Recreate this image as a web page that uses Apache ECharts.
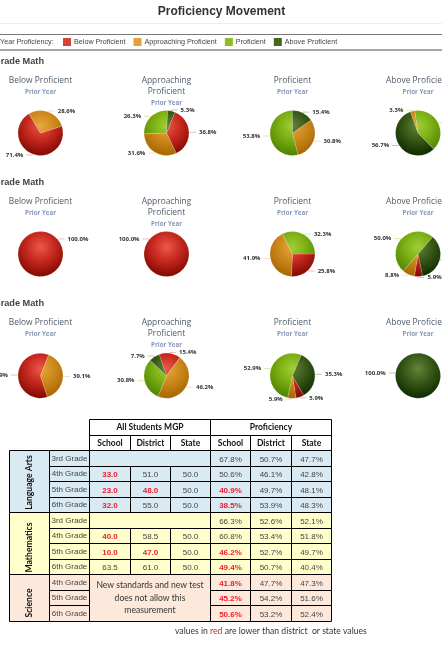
<!DOCTYPE html>
<html><head><meta charset="utf-8">
<style>html,body{margin:0;padding:0;background:#fff}#c{width:442px;height:655px;filter:blur(0.3px)}</style>
<script src="https://cdn.jsdelivr.net/npm/echarts@6/dist/echarts.min.js"></script>
</head><body><div id="c"></div>
<script>
// ---------- data ----------
const categories = ['Below Proficient','Approaching Proficient','Proficient','Above Proficient'];
const pieTitles = ['Below Proficient','Approaching\nProficient','Proficient','Above Proficient'];
const row1Values = [[71.4,28.6,0,0],[36.8,31.6,26.3,5.3],[0,30.8,53.8,15.4],[0,3.3,40.0,56.7]];
const row2Values = [[100,0,0,0],[100,0,0,0],[25.8,41.9,32.3,0],[5.9,8.8,50.0,35.3]];
const row3Values = [[60.9,39.1,0,0],[15.4,46.2,30.8,7.7],[5.9,5.9,52.9,35.3],[0,0,0,100]];
const row1Start = [72,22,55,-20];
const row2Start = [230,130,90,168];
const row3Start = [162,-19,150,97];

const subjects = ['Language Arts','Mathematics','Science'];
const grades = ['3rd Grade','4th Grade','5th Grade','6th Grade','3rd Grade','4th Grade','5th Grade','6th Grade','4th Grade','5th Grade','6th Grade'];
const mgpSchool   = [null,'33.0','23.0','32.0',null,'40.0','10.0','63.5',null,null,null];
const mgpDistrict = [null,'51.0','48.0','55.0',null,'58.5','47.0','61.0',null,null,null];
const mgpState    = [null,'50.0','50.0','50.0',null,'50.0','50.0','50.0',null,null,null];
const profSchool   = ['67.8%','50.6%','40.9%','38.5%','66.3%','60.8%','46.2%','49.4%','41.8%','45.2%','50.6%'];
const profDistrict = ['50.7%','46.1%','49.7%','53.9%','52.6%','53.4%','52.7%','50.7%','47.7%','54.2%','53.2%'];
const profState    = ['47.7%','42.8%','48.1%','48.3%','52.1%','51.8%','49.7%','40.4%','47.3%','51.6%','52.4%'];
const redMgp = {'33.0':1,'23.0':1,'32.0':1,'48.0':1,'40.0':1,'10.0':1,'47.0':1};
const redProfSchoolRows = [2,3,6,7,8,9,10];

// ---------- layout & style ----------
const pieX = [40.5,166.5,292.5,418];
const pieY = [133,254,375.7];
const titleY = [75,196,317];
const R = 22.5;
const flat = ['#d2433a','#e3a23c','#8fbe24','#46661a'];
const light = ['#e85a4a','#e8a63f','#a0cf35','#64843a'];
const mid   = ['#c92a20','#cf8a1e','#7cb014','#3a5a18'];
const dark  = ['#7f0800','#a56500','#4c8000','#0c2a00'];
const colEdges = [9.5,49.5,89.5,130.5,170.5,210.5,250.5,291.5,331.5];
const rowEdges = [450.5,466.5,481.5,497.5,512.5,528.5,543.5,559.5,574.5,590.5,605.5,621.5];
const headEdges = [419.5,435.5,450.5];
const bgBlue='#daeaf2', bgYellow='#ffffcc', bgPeach='#fde9dc';
const rowBg = i => i<4?bgBlue:i<8?bgYellow:bgPeach;
const cellFont = 'Liberation Sans', headFont='Lato';
const subjectShift = [1,4,5];

// table cells: [c0,c1,y0,y1,text,fill,color,weight,font,size,rotate,dy]
const cells = [];
function cell(c0,c1,y0,y1,text,fill,color,weight,font,size,rot,dy){cells.push([c0,c1,y0,y1,text,fill,color,weight,font,size,rot?1:0,dy||0]);}
cell(2,5,headEdges[0],headEdges[1],'All Students MGP','#fff','#111','bold',headFont,8.5);
cell(5,8,headEdges[0],headEdges[1],'Proficiency','#fff','#111','bold',headFont,8.5);
['School','District','State','School','District','State'].forEach((t,k)=>cell(2+k,3+k,headEdges[1],headEdges[2],t,'#fff','#111','bold',headFont,8.5));
cell(0,1,rowEdges[0],rowEdges[4],subjects[0],bgBlue,'#111','bold',headFont,8.6,true,subjectShift[0]);
cell(0,1,rowEdges[4],rowEdges[8],subjects[1],bgYellow,'#111','bold',headFont,8.6,true,subjectShift[1]);
cell(0,1,rowEdges[8],rowEdges[11],subjects[2],bgPeach,'#111','bold',headFont,8.6,true,subjectShift[2]);
grades.forEach((g,i)=>{
  const y0=rowEdges[i],y1=rowEdges[i+1],bg=rowBg(i);
  cell(1,2,y0,y1,g,bg,'#444','normal',cellFont,8);
  if(mgpSchool[i]!==null){
    [mgpSchool,mgpDistrict,mgpState].forEach((a,k)=>{
      const red=k<2&&redMgp[a[i]];
      cell(2+k,3+k,y0,y1,a[i],bg,red?'#f01c2c':'#444',red?'bold':'normal',cellFont,8,false,1);
    });
  } else if(i<8){ cell(2,5,y0,y1,'',bg,'#444','normal',cellFont,8); }
  const red=redProfSchoolRows.indexOf(i)>=0;
  cell(5,6,y0,y1,profSchool[i],bg,red?'#f01c2c':'#444',red?'bold':'normal',cellFont,8,false,1);
  cell(6,7,y0,y1,profDistrict[i],bg,'#444','normal',cellFont,8,false,1);
  cell(7,8,y0,y1,profState[i],bg,'#444','normal',cellFont,8,false,1);
});
cell(2,5,rowEdges[8],rowEdges[11],'New standards and new test\ndoes not allow this\nmeasurement',bgPeach,'#333','normal',headFont,8.6);

function renderCell(params,api){
  const d=cells[params.dataIndex];
  const p0=api.coord([colEdges[d[0]],d[2]]), p1=api.coord([colEdges[d[1]],d[3]]);
  const cx=(p0[0]+p1[0])/2, cy=(p0[1]+p1[1])/2+d[11];
  return {type:'group',children:[
    {type:'rect',shape:{x:p0[0],y:p0[1],width:p1[0]-p0[0],height:p1[1]-p0[1]},style:{fill:d[5],stroke:'#000',lineWidth:1}},
    {type:'text',x:cx,y:cy,rotation:d[10]?Math.PI/2:0,style:{text:d[4],fill:d[6],fontWeight:d[7],fontFamily:d[8],fontSize:d[9],align:'center',verticalAlign:'middle',lineHeight:12.5}}
  ]};
}

const series=[], titles=[];
[row1Values,row2Values,row3Values].forEach((rowVals,r)=>{
  const starts=[row1Start,row2Start,row3Start][r];
  rowVals.forEach((vals,p)=>{
    const cx=pieX[p], cy=pieY[r];
    const data=[];
    vals.forEach((v,k)=>{
      if(!v) return;
      const g=new echarts.graphic.RadialGradient(cx,cy-7,30,[{offset:0,color:light[k]},{offset:.45,color:mid[k]},{offset:1,color:dark[k]}],true);
      data.push({name:categories[k],value:v,
        itemStyle:{color:g,borderColor:'rgba(255,255,255,0.3)',borderWidth:0.5},
        labelLine:{lineStyle:{color:flat[k],opacity:.35,width:1}}});
    });
    series.push({type:'pie',silent:true,animation:false,radius:[0,R],center:[cx,cy],
      startAngle:90-starts[p],clockwise:true,avoidLabelOverlap:false,data,
      left:0,right:0,top:0,bottom:0,
      label:{show:true,position:'outside',overflow:'none',formatter:o=>o.value.toFixed(1)+'%',fontFamily:'Open Sans',fontWeight:'bold',fontSize:6,color:'#333',distanceToLabelLine:3},
      labelLine:{show:true,length:1,length2:6,smooth:false},
      emphasis:{disabled:true}});
    titles.push({text:pieTitles[p],subtext:'Prior Year',left:cx,top:titleY[r],textAlign:'center',padding:0,itemGap:2,
      textStyle:{fontFamily:'Open Sans',fontSize:8.4,fontWeight:'normal',color:'#4d5a6a',lineHeight:11},
      subtextStyle:{fontFamily:'Open Sans',fontSize:6.2,fontWeight:'bold',color:'#8496b8',lineHeight:9}});
  });
});
series.push({type:'custom',xAxisIndex:0,yAxisIndex:0,coordinateSystem:'cartesian2d',silent:true,animation:false,clip:false,
  data:cells.map((c,i)=>[i]),encode:{x:0,y:0},renderItem:renderCell});

titles.push({text:'Proficiency Movement',left:221.5,top:6,textAlign:'center',padding:0,
  textStyle:{fontFamily:'Liberation Sans',fontSize:12,fontWeight:'bold',color:'#333'}});

const headings=[61,182,303].map(y=>({type:'text',x:-6.5,y,style:{text:'Grade Math',fontFamily:'Liberation Sans',fontSize:9.2,fontWeight:'bold',fill:'#444',verticalAlign:'middle'}}));

const chart=echarts.init(document.getElementById('c'),null,{renderer:'canvas',width:442,height:655});
chart.setOption({
  backgroundColor:'#fff',animation:false,
  title:titles,
  tooltip:{show:false},
  grid:{left:0,right:0,top:0,bottom:0},
  xAxis:{type:'value',min:0,max:442,show:false},
  yAxis:{type:'value',min:0,max:655,inverse:true,show:false},
  legend:{left:63,top:38,padding:0,itemWidth:8,itemHeight:8,itemGap:8,icon:'rect',selectedMode:false,
    itemStyle:{borderWidth:0},
    textStyle:{fontFamily:'Liberation Sans',fontSize:7.2,color:'#444',padding:[0,0,0,-2]},
    data:categories.map((n,k)=>({name:n,itemStyle:{color:flat[k],borderWidth:0,borderColor:flat[k]}}))},
  series,
  graphic:{elements:[
    {type:'line',shape:{x1:0,y1:23.5,x2:442,y2:23.5},style:{stroke:'#eee',lineWidth:1}},
    {type:'line',shape:{x1:0,y1:34.5,x2:442,y2:34.5},style:{stroke:'#777',lineWidth:1}},
    {type:'line',shape:{x1:0,y1:50,x2:442,y2:50},style:{stroke:'#888',lineWidth:1.5}},
    {type:'text',x:0,y:42.5,style:{text:'Year Proficiency:',fontFamily:'Liberation Sans',fontSize:7.2,fill:'#444',verticalAlign:'middle'}},
    ...headings,
    {type:'text',x:175,y:631,style:{rich:{a:{fontFamily:'Lato',fontSize:8.65,fill:'#333'},r:{fontFamily:'Lato',fontSize:8.65,fill:'#c0282c'}},text:'{a|values in }{r|red}{a| are lower than district  or state values}',verticalAlign:'middle'}}
  ]}
});
</script></body></html>
